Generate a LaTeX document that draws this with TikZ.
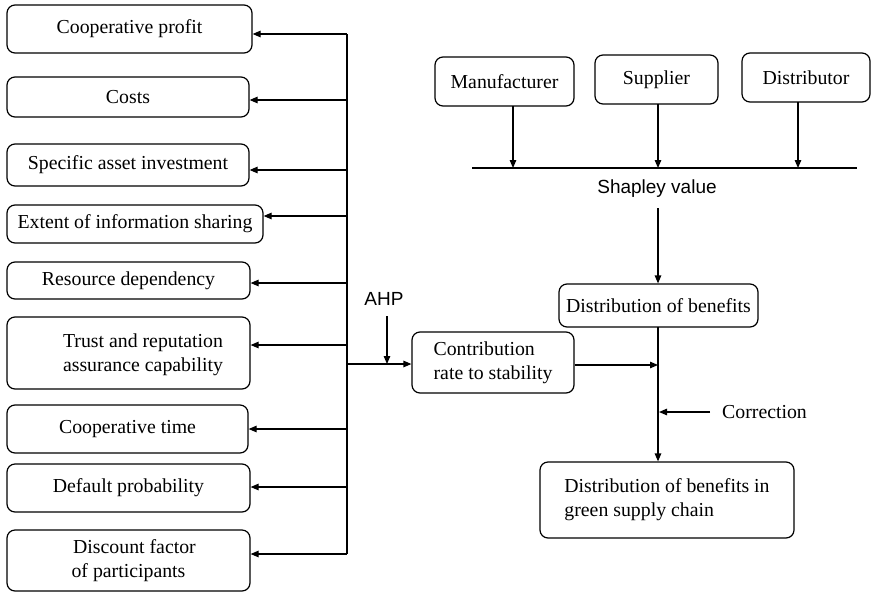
\documentclass[tikz,border=0pt]{standalone}
\usepackage{fontspec}
\setmainfont{Liberation Serif}
\newfontfamily\labelsans{Liberation Sans}
\usetikzlibrary{arrows.meta}

\tikzset{
  box/.style={draw, rounded corners=8pt, line width=1.2pt, inner sep=0pt,
    font=\fontsize{19.8}{24}\selectfont},
  arr/.style={line width=1.2pt, -{Triangle[length=8pt,width=6.5pt]}},
  wire/.style={line width=1.2pt},
  sanslabel/.style={font=\labelsans\fontsize{19}{23}\selectfont, inner sep=0pt},
  seriflabel/.style={font=\fontsize{19.8}{24}\selectfont, inner sep=0pt},
}

\begin{document}
\begin{tikzpicture}[x=1pt, y=-1pt]
\useasboundingbox (0,0) rectangle (872,592);

% factors on the left
\node[box, minimum width=245pt, minimum height=48pt] (profit)   at (129.5,29)  {Cooperative profit};
\node[box, minimum width=242pt, minimum height=40pt] (costs)    at (128,97)    {Costs};
\node[box, minimum width=242pt, minimum height=42pt] (specific) at (128,165)   {Specific asset investment};
\node[box, minimum width=256pt, minimum height=38pt] (extent)   at (135,224)   {Extent of information sharing};
\node[box, minimum width=243pt, minimum height=37pt] (resource) at (128.5,280.5) {Resource dependency};
\node[box, minimum width=243pt, minimum height=72pt] (trust)    at (128.5,353) {};
\node[seriflabel, align=center] (trusttxt) at (143,355) {Trust and reputation\\assurance capability};
\node[box, minimum width=241pt, minimum height=48pt] (cooptime) at (127.5,429) {Cooperative time};
\node[box, minimum width=243pt, minimum height=48pt] (default)  at (128.5,488) {Default probability};
\node[box, minimum width=243pt, minimum height=61pt, align=center] (discount) at (128.5,560.5) {\hspace*{12pt}Discount factor\\of participants};

% bus feeding the factors
\coordinate (b1) at (347,34);
\coordinate (b2) at (347,100);
\coordinate (b3) at (347,170);
\coordinate (b4) at (347,216);
\coordinate (b5) at (347,283);
\coordinate (b6) at (347,345);
\coordinate (b7) at (347,429);
\coordinate (b8) at (347,487);
\coordinate (b9) at (347,554);
\coordinate (bc) at (347,364);
\draw[wire] (b1) -- (b9);
\draw[arr] (b1) -- (b1 -| profit.east);
\draw[arr] (b2) -- (b2 -| costs.east);
\draw[arr] (b3) -- (b3 -| specific.east);
\draw[arr] (b4) -- (b4 -| extent.east);
\draw[arr] (b5) -- (b5 -| resource.east);
\draw[arr] (b6) -- (b6 -| trust.east);
\draw[arr] (b7) -- (b7 -| cooptime.east);
\draw[arr] (b8) -- (b8 -| default.east);
\draw[arr] (b9) -- (b9 -| discount.east);

% AHP weighting
\node[box, minimum width=162pt, minimum height=61pt, align=left] (contrib) at (493,362.5) {Contribution\\rate to stability};
\draw[arr] (bc) -- (bc -| contrib.west);
\node[sanslabel] (ahp) at (384,299) {AHP};
\coordinate (ahptop) at (387,316);
\coordinate (ahpend) at (387,364);
\draw[arr] (ahptop) -- (ahpend);

% players and Shapley value
\node[box, minimum width=139pt, minimum height=49pt] (manu) at (504.5,81.5) {Manufacturer};
\node[box, minimum width=123pt, minimum height=49pt] (supp) at (656.5,79.5) {Supplier};
\node[box, minimum width=128pt, minimum height=49pt] (dist) at (806,77.5)   {Distributor};
\coordinate (sl) at (472,168);
\coordinate (sr) at (857,168);
\draw[wire] (sl) -- (sr);
\coordinate (m1) at (513,106);
\coordinate (s1) at (658,104);
\coordinate (d1) at (798,102);
\draw[arr] (m1) -- (m1 |- sl);
\draw[arr] (s1) -- (s1 |- sl);
\draw[arr] (d1) -- (d1 |- sl);
\node[sanslabel] (shapley) at (657,189) {Shapley value};

% benefit distribution and correction
\node[box, minimum width=199pt, minimum height=43pt] (benefit) at (658.5,305.5) {Distribution of benefits};
\coordinate (sv) at (658,208);
\draw[arr] (sv) -- (sv |- benefit.north);
\node[box, minimum width=254pt, minimum height=76pt, align=left] (green) at (667,500) {Distribution of benefits in\\green supply chain};
\coordinate (vtop) at (658,327);
\draw[arr] (vtop) -- (vtop |- green.north);
\coordinate (cj) at (658,365);
\draw[arr] (contrib.east |- cj) -- (cj);
\node[seriflabel, anchor=west] (corr) at (722,412) {Correction};
\coordinate (cs) at (710,412);
\coordinate (ce) at (659,412);
\draw[arr] (cs) -- (ce);
\end{tikzpicture}
\end{document}
